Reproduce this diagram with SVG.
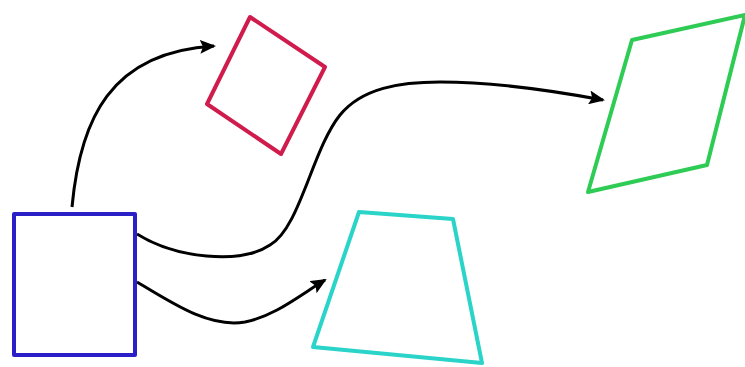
<svg xmlns="http://www.w3.org/2000/svg" width="745" height="367" viewBox="0 0 745 367">
<style>
.shape{fill:none;stroke-width:4;stroke-linejoin:round}
.conn{fill:none;stroke:#000;stroke-width:3}
</style>
<defs>
<marker id="ah" markerWidth="16" markerHeight="14" refX="14" refY="7" orient="auto" markerUnits="userSpaceOnUse" viewBox="0 0 16 14">
<path d="M0,0 L16,7 L0,14 L3,7 Z" fill="#000"/>
</marker>
</defs>
<rect width="745" height="367" fill="#fff"/>
<g id="connectors">
<path class="conn" marker-end="url(#ah)" d="M72,207 C80,120 110,52 214,46"/>
<path class="conn" marker-end="url(#ah)" d="M137,234 C175,258 240,265 270,245 C300,228 312,150 340,115 C362,88 400,82 440,82 C500,82 560,92 603,100"/>
<path class="conn" marker-end="url(#ah)" d="M137,282 C175,305 210,328 245,322 C275,316 300,295 325,280"/>
</g>
<g id="blue-square"><rect class="shape" stroke="#2b1fc8" x="14" y="214" width="121" height="141"/></g>
<g id="red-square"><polygon class="shape" stroke="#d01c4c" points="250,17 325,67 281,154 207,104"/></g>
<g id="green-rhombus"><polygon class="shape" stroke="#2ecc55" points="632,40 745,15 707,165 588,192"/></g>
<g id="cyan-trapezoid"><polygon class="shape" stroke="#2ad4c8" points="359,212 453,219 482,363 313,347"/></g>
</svg>
